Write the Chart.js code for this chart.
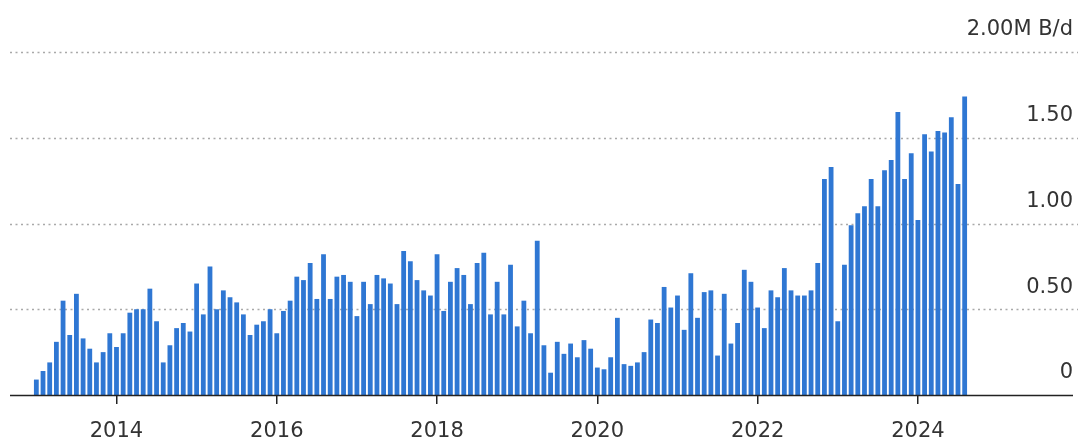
<!DOCTYPE html>
<html>
<head>
<meta charset="utf-8">
<script src="https://cdn.jsdelivr.net/npm/chart.js@4"></script>
<style>
  html, body { margin: 0; padding: 0; background: #fff; }
  #wrap { width: 1078px; height: 441px; position: relative; }
</style>
</head>
<body>
<div id="wrap"><canvas id="exportsChart"></canvas></div>
<script>
var barBlue = '#2f77d3';
var textGrey = '#333333';
var fontFamily = '"DejaVu Sans", sans-serif';

// monthly values, Jan 2013 .. Aug 2024 (million barrels a day)
var startYear = 2013;
var monthlyValues = [
    0.09, 0.14, 0.19, 0.31, 0.55, 0.35, 0.59, 0.33, 0.27, 0.19, 0.25, 0.36,
    0.28, 0.36, 0.48, 0.50, 0.50, 0.62, 0.43, 0.19, 0.29, 0.39, 0.42, 0.37,
    0.65, 0.47, 0.75, 0.50, 0.61, 0.57, 0.54, 0.47, 0.35, 0.41, 0.43, 0.50,
    0.36, 0.49, 0.55, 0.69, 0.67, 0.77, 0.56, 0.82, 0.56, 0.69, 0.70, 0.66,
    0.46, 0.66, 0.53, 0.70, 0.68, 0.65, 0.53, 0.84, 0.78, 0.67, 0.61, 0.58,
    0.82, 0.49, 0.66, 0.74, 0.70, 0.53, 0.77, 0.83, 0.47, 0.66, 0.47, 0.76,
    0.40, 0.55, 0.36, 0.90, 0.29, 0.13, 0.31, 0.24, 0.30, 0.22, 0.32, 0.27,
    0.16, 0.15, 0.22, 0.45, 0.18, 0.17, 0.19, 0.25, 0.44, 0.42, 0.63, 0.51,
    0.58, 0.38, 0.71, 0.45, 0.60, 0.61, 0.23, 0.59, 0.30, 0.42, 0.73, 0.66,
    0.51, 0.39, 0.61, 0.57, 0.74, 0.61, 0.58, 0.58, 0.61, 0.77, 1.26, 1.33,
    0.43, 0.76, 0.99, 1.06, 1.10, 1.26, 1.10, 1.31, 1.37, 1.65, 1.26, 1.41,
    1.02, 1.52, 1.42, 1.54, 1.53, 1.62, 1.23, 1.74
];

// x labels only on these years (January)
var tickYears = [2014, 2016, 2018, 2020, 2022, 2024];

// y gridlines and their labels
var yTickValues = [0, 0.5, 1, 1.5, 2];
var yTickLabels = ['0', '0.50', '1.00', '1.50', '2.00M B/d'];

var monthLabels = [];
for (var i = 0; i < monthlyValues.length; i++) {
    var yr = startYear + Math.floor(i / 12);
    var mo = (i % 12) + 1;
    monthLabels.push(yr + '-' + (mo < 10 ? '0' + mo : mo));
}

function yearTickText(label) {
    var parts = label.split('-');
    if (parts[1] === '01' && tickYears.indexOf(parseInt(parts[0])) >= 0) return parts[0];
    return '';
}

// dotted gridlines + axis line run past the plot, labels sit above each line
var gridAndLabels = {
    id: 'gridAndLabels',
    beforeDatasetsDraw: function(chart) {
        var ctx = chart.ctx;
        var y = chart.scales.y;
        ctx.save();
        ctx.strokeStyle = '#a9a9a9';
        ctx.lineWidth = 1.5;
        ctx.setLineDash([2, 3.5]);
        for (var i = 0; i < yTickValues.length; i++) {
            if (yTickValues[i] === 0) continue;
            var py = Math.round(y.getPixelForValue(yTickValues[i])) + 0.5;
            ctx.beginPath();
            ctx.moveTo(10, py);
            ctx.lineTo(chart.width, py);
            ctx.stroke();
        }
        ctx.restore();
    },
    afterDraw: function(chart) {
        var ctx = chart.ctx;
        var y = chart.scales.y;
        ctx.save();
        // baseline
        var base = Math.round(y.getPixelForValue(0)) + 0.5;
        ctx.strokeStyle = '#222';
        ctx.lineWidth = 1.5;
        ctx.beginPath();
        ctx.moveTo(10, base);
        ctx.lineTo(1073, base);
        ctx.stroke();
        // right side labels
        ctx.fillStyle = textGrey;
        ctx.font = '21px ' + fontFamily;
        ctx.textAlign = 'right';
        ctx.textBaseline = 'middle';
        for (var i = 0; i < yTickValues.length; i++) {
            ctx.fillText(yTickLabels[i], 1073, y.getPixelForValue(yTickValues[i]) - 22);
        }
        ctx.restore();
    }
};

var exportsChart = new Chart(document.getElementById('exportsChart'), {
    type: 'bar',
    data: {
        labels: monthLabels,
        datasets: [{
            data: monthlyValues,
            backgroundColor: barBlue,
            barPercentage: 0.72,
            categoryPercentage: 1.0
        }]
    },
    options: {
        responsive: true,
        maintainAspectRatio: false,
        animation: false,
        layout: { padding: { left: 33, right: 110, top: 52, bottom: 0 } },
        plugins: {
            legend: { display: false },
            tooltip: { enabled: false }
        },
        scales: {
            x: {
                offset: true,
                border: { display: false },
                grid: {
                    offset: false,
                    drawOnChartArea: false,
                    drawTicks: true,
                    tickLength: 9,
                    lineWidth: 1.5,
                    color: function(c) {
                        return (c.tick && yearTickText(monthLabels[c.index]) !== '') ? '#222' : 'transparent';
                    }
                },
                ticks: {
                    autoSkip: false,
                    maxRotation: 0,
                    padding: 15,
                    color: textGrey,
                    font: { family: fontFamily, size: 21 },
                    callback: function(value, index) {
                        return yearTickText(monthLabels[index]);
                    }
                },
                afterFit: function(scale) { scale.height = 46; }
            },
            y: {
                display: false,
                min: 0,
                max: 2
            }
        }
    },
    plugins: [gridAndLabels]
});
</script>
</body>
</html>
